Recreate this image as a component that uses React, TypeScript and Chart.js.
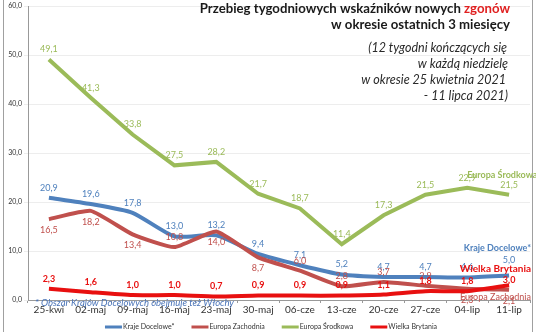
import React, { useEffect, useRef } from "react";
import { Chart, registerables } from "chart.js";

Chart.register(...registerables);

const categories = ["25-kwi", "02-maj", "09-maj", "16-maj", "23-maj", "30-maj", "06-cze", "13-cze", "20-cze", "27-cze", "04-lip", "11-lip"];
const krajeDocelowe = [20.9, 19.6, 17.8, 13.0, 13.2, 9.4, 7.1, 5.2, 4.7, 4.7, 4.6, 5.0];
const europaZachodnia = [16.5, 18.2, 13.4, 10.8, 14.0, 8.7, 6.0, 2.8, 3.7, 2.9, 2.3, 2.1];
const europaSrodkowa = [49.1, 41.3, 33.8, 27.5, 28.2, 21.7, 18.7, 11.4, 17.3, 21.5, 22.9, 21.5];
const wielkaBrytania = [2.3, 1.6, 1.0, 1.0, 0.7, 0.9, 0.9, 0.9, 1.1, 1.8, 1.8, 3.0];
const yTicks = [0, 10, 20, 30, 40, 50, 60];

// label placement: a = above, b = below, h = high above, n = near above
const krajeLabelPos = ["a", "a", "a", "a", "a", "a", "a", "a", "a", "a", "a", "h"];
const zachodniaLabelPos = ["b", "b", "b", "a", "b", "b", "a", "a", "a", "a", "b", "b"];
const brytaniaLabelPos = ["a", "a", "a", "a", "a", "a", "a", "a", "a", "a", "a", "n"];

const FONT = "Lato, 'Noto Sans', sans-serif";
const BLUE = "#4F81BD";
const BROWN = "#C0504D";
const GREEN = "#9BBB59";
const RED = "#E81010";

const OFFS: Record<string, number> = { a: -10, b: 11, h: -15, n: -5 };

const fmt = (v: number) => v.toFixed(1).replace(".", ",");

const decorPlugin = {
  id: "decor",
  beforeDraw(chart: any) {
    const ctx = chart.ctx;
    ctx.save();
    ctx.fillStyle = "#fff";
    ctx.fillRect(0, 0, chart.width, chart.height);
    ctx.restore();
  },
  afterDatasetsDraw(chart: any) {
    const ctx = chart.ctx;
    const ca = chart.chartArea;
    ctx.save();
    // frame lines
    ctx.strokeStyle = "#A0A0A0";
    ctx.lineWidth = 1;
    ctx.beginPath();
    ctx.moveTo(3.5, 0);
    ctx.lineTo(3.5, chart.height);
    ctx.moveTo(532.5, 0);
    ctx.lineTo(532.5, chart.height);
    ctx.stroke();

    // data labels
    ctx.textAlign = "center";
    ctx.textBaseline = "middle";
    chart.data.datasets.forEach((ds: any, di: number) => {
      const meta = chart.getDatasetMeta(di);
      ctx.fillStyle = ds.labelColor;
      ctx.font = (ds.labelBold ? "bold " : "") + "9px " + FONT;
      meta.data.forEach((pt: any, i: number) => {
        const pos = ds.labelPos ? ds.labelPos[i] : "a";
        ctx.fillText(fmt(ds.data[i]), pt.x, pt.y + OFFS[pos]);
      });
    });

    // series name labels near the right end
    const last = (di: number) => {
      const m = chart.getDatasetMeta(di);
      return m.data[m.data.length - 1];
    };
    const prev = (di: number) => {
      const m = chart.getDatasetMeta(di);
      return m.data[m.data.length - 2];
    };
    ctx.font = "bold 9px " + FONT;
    ctx.textAlign = "left";
    ctx.fillStyle = GREEN;
    ctx.fillText("Europa Środkowa", prev(2).x, last(2).y - 20);
    ctx.textAlign = "right";
    ctx.fillStyle = BLUE;
    ctx.fillText("Kraje Docelowe*", 531, last(0).y - 27);
    ctx.font = "bold 10px " + FONT;
    ctx.fillStyle = RED;
    ctx.fillText("Wielka Brytania", 531, last(3).y - 17);
    ctx.font = "9px " + FONT;
    ctx.fillStyle = BROWN;
    ctx.fillText("Europa Zachodnia", 531, last(1).y + 7);

    // footnote
    ctx.textAlign = "left";
    ctx.font = "italic 9.5px " + FONT;
    ctx.fillStyle = "#4A74B8";
    ctx.fillText("* Obszar Krajów Docelowych obejmuje też Włochy", ca.left + 7, ca.bottom + 3);

    // title
    const rx = 510;
    ctx.textAlign = "right";
    ctx.textBaseline = "alphabetic";
    ctx.font = "bold 13.2px " + FONT;
    const red = "zgonów";
    ctx.fillStyle = "#E02020";
    ctx.fillText(red, rx, 13);
    const rw = ctx.measureText(red).width;
    ctx.fillStyle = "#1a1a1a";
    ctx.fillText("Przebieg tygodniowych wskaźników nowych ", rx - rw, 13);
    ctx.fillText("w okresie ostatnich 3 miesięcy", rx, 29);
    ctx.font = "italic 12.5px " + FONT;
    ctx.fillStyle = "#2a2a2a";
    ctx.fillText("(12 tygodni kończących się", rx - 3, 52);
    ctx.fillText("w każdą niedzielę", rx - 2, 68);
    ctx.fillText("w okresie 25 kwietnia 2021", rx - 4, 84);
    ctx.fillText("- 11 lipca 2021)", rx - 2, 100);

    // legend
    ctx.textBaseline = "middle";
    ctx.textAlign = "left";
    ctx.font = "7px " + FONT;
    const items = chart.data.datasets.map((ds: any) => ({ label: ds.label, color: ds.borderColor }));
    const sym = 17;
    const gap = 17;
    const widths = items.map((it: any) => sym + 1 + ctx.measureText(it.label).width);
    const total = widths.reduce((a: number, b: number) => a + b, 0) + gap * (items.length - 1);
    let x = 271 - total / 2;
    const ly = 327;
    items.forEach((it: any, i: number) => {
      ctx.strokeStyle = it.color;
      ctx.lineWidth = 3;
      ctx.beginPath();
      ctx.moveTo(x, ly);
      ctx.lineTo(x + sym, ly);
      ctx.stroke();
      ctx.fillStyle = "#333";
      ctx.fillText(it.label, x + sym + 1, ly);
      x += widths[i] + gap;
    });
    ctx.restore();
  },
};

export default function App() {
  const ref = useRef<HTMLCanvasElement | null>(null);
  useEffect(() => {
    if (!ref.current) return;
    const chart = new Chart(ref.current, {
      type: "line",
      data: {
        labels: categories,
        datasets: [
          {
            label: "Kraje Docelowe*",
            data: krajeDocelowe,
            borderColor: BLUE,
            backgroundColor: BLUE,
            borderWidth: 4,
            pointRadius: 0,
            tension: 0.2,
            order: 3,
            labelColor: BLUE,
            labelPos: krajeLabelPos,
          } as any,
          {
            label: "Europa Zachodnia",
            data: europaZachodnia,
            borderColor: BROWN,
            backgroundColor: BROWN,
            borderWidth: 4,
            pointRadius: 0,
            tension: 0.15,
            order: 2,
            labelColor: BROWN,
            labelPos: zachodniaLabelPos,
          },
          {
            label: "Europa Środkowa",
            data: europaSrodkowa,
            borderColor: GREEN,
            backgroundColor: GREEN,
            borderWidth: 4,
            pointRadius: 0,
            tension: 0,
            order: 1,
            labelColor: GREEN,
          },
          {
            label: "Wielka Brytania",
            data: wielkaBrytania,
            borderColor: RED,
            backgroundColor: RED,
            borderWidth: 4,
            pointRadius: 0,
            tension: 0.2,
            order: 0,
            labelColor: RED,
            labelBold: true,
            labelPos: brytaniaLabelPos,
          },
        ],
      },
      options: {
        animation: false,
        responsive: false,
        devicePixelRatio: 1,
        layout: { padding: { top: 3, right: 6, bottom: 14, left: 0 } },
        plugins: {
          legend: { display: false },
          tooltip: { enabled: false },
          title: { display: false },
        },
        scales: {
          x: {
            offset: true,
            grid: { display: true, drawOnChartArea: false, offset: true, tickLength: 3, color: "#999" },
            border: { color: "#999" },
            ticks: { color: "#333", font: { family: FONT, size: 10 }, padding: 1, maxRotation: 0 },
            afterFit: (s: any) => { s.height = 18; },
          },
          y: {
            min: 0,
            max: 60,
            afterBuildTicks: (s: any) => { s.ticks = yTicks.map((v) => ({ value: v })); },
            grid: { color: "#EDEDED", tickLength: 4 },
            border: { color: "#999" },
            ticks: {
              color: "#333",
              font: { family: FONT, size: 7 },
              padding: 2,
              callback: (v: any) => fmt(Number(v)),
            },
            afterFit: (s: any) => { s.width = 28; },
          },
        },
      },
      plugins: [decorPlugin],
    } as any);
    return () => chart.destroy();
  }, []);
  return (
    <div style={{ position: "fixed", left: 0, top: 0, width: 536, height: 332, background: "#fff" }}>
      <canvas ref={ref} width={536} height={332} style={{ width: 536, height: 332 }} />
    </div>
  );
}
